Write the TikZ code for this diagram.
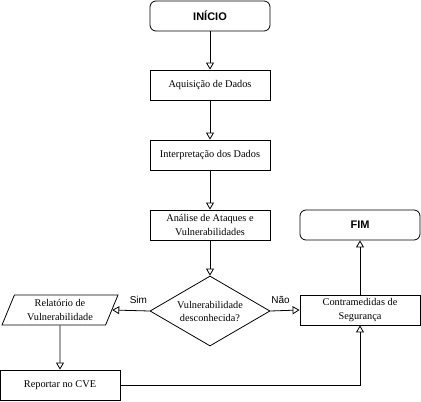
\documentclass[tikz,border=0pt]{standalone}
\usepackage{fontspec}
\setmainfont{Liberation Serif}
\newfontfamily\lblfont{Liberation Sans}
\usetikzlibrary{arrows.meta,shapes.geometric}
\tikzset{
  proc/.style={draw,line width=0.8pt,minimum width=120pt,minimum height=30pt,inner sep=1pt,align=center,font=\fontsize{10.3}{14}\selectfont},
  term/.style={proc,rounded corners=6pt,font=\lblfont\bfseries\fontsize{11}{13}\selectfont},
  dec/.style={draw,line width=0.8pt,diamond,aspect=1.7,inner sep=0pt,minimum width=120pt,minimum height=70pt,align=center,font=\fontsize{10.3}{13}\selectfont},
  io/.style={draw,line width=0.8pt,trapezium,trapezium left angle=62,trapezium right angle=118,trapezium stretches body,minimum width=116pt,minimum height=30pt,inner sep=1pt,align=center,font=\fontsize{10.3}{14}\selectfont},
  flw/.style={line width=0.8pt,-{Triangle[open,length=7pt,width=8pt]}},
  lbl/.style={font=\lblfont\fontsize{10}{12}\selectfont,above=3pt}
}

\begin{document}
\begin{tikzpicture}[x=1pt,y=-1pt]
\useasboundingbox (0,0) rectangle (421,402);
\node[term] (ini) at (210,16) {INÍCIO};
\node[proc] (aq) at (210,85) {Aquisição de Dados};
\node[proc] (int) at (210,155) {Interpretação dos Dados};
\node[proc] (ana) at (210,225) {Análise de Ataques e\\Vulnerabilidades};
\node[dec] (vul) at (210,311) {Vulnerabilidade\\desconhecida?};
\node[io] (rel) at (60,310) {Relatório de\\Vulnerabilidade};
\node[proc] (rep) at (60,385) {Reportar no CVE};
\node[proc] (con) at (360,310) {Contramedidas de\\Segurança};
\node[term] (fim) at (360,225) {FIM};
\draw[flw] (ini) -- (aq);
\draw[flw] (aq) -- (int);
\draw[flw] (int) -- (ana);
\draw[flw] (ana) -- (vul);
\draw[flw] (vul.west) -- node[lbl,pos=0.3] (sim) {Sim} (rel.east);
\draw[flw] (vul.east) -- node[lbl,pos=0.35] (nao) {Não} (con.west);
\draw[flw] (con) -- (fim);
\draw[flw] (rel.south) -- (rep.north);
\draw[flw] (rep.east) -| (con.south);
\end{tikzpicture}
\end{document}
